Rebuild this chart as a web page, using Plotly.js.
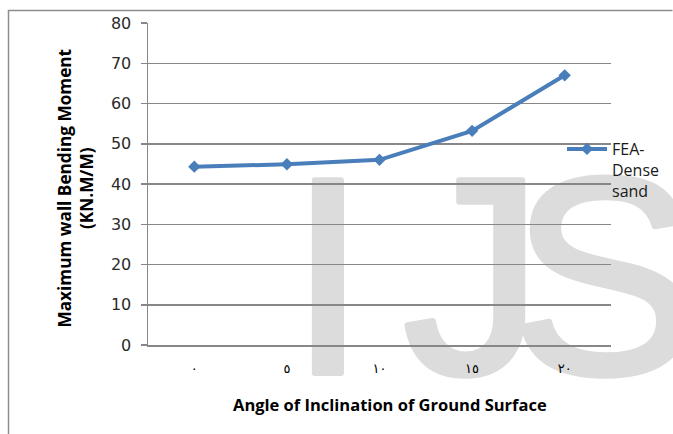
<!DOCTYPE html>
<html>
<head>
<meta charset="utf-8">
<script src="https://cdn.plot.ly/plotly-3.0.1.min.js"></script>
<style>
  html, body { margin: 0; padding: 0; background: #ffffff; }
  #wrap { position: relative; width: 673px; height: 434px; overflow: hidden; }
  #backdrop { position: absolute; left: 0; top: 0; }
  #chart { position: absolute; left: 0; top: 0; width: 673px; height: 434px; }
  .mark { font-family: 'Liberation Sans', Arial, sans-serif; font-size: 280px;
          fill: #dcdcdc; stroke: #dcdcdc; stroke-width: 6px; stroke-linejoin: round; }
</style>
</head>
<body>
<div id="wrap">
  <svg id="backdrop" width="673" height="434">
    <!-- chart frame -->
    <path d="M8.5,440 V10.5 H672.5" fill="none" stroke="#8e8e8e" stroke-width="1.5"/>
    <!-- journal watermark, one glyph per element so the spacing can be set -->
    <text class="mark" x="289" y="373">I</text>
    <text class="mark" x="403" y="373">J</text>
    <text class="mark" x="511" y="373">S</text>
  </svg>
  <div id="chart"></div>
</div>
<script>
// Inclination angle of the ground surface (Arabic-Indic numerals)
const angles = ['٠', '٥', '١٠', '١٥', '٢٠'];
// Maximum wall bending moment, FEA - dense sand (kN.m/m)
const momentDense = [44.3, 44.9, 46.0, 53.2, 67.0];
const seriesName = 'FEA-<br>Dense<br>sand';
const yTitle = 'Maximum wall Bending Moment<br>(KN.M/M)';
const xTitle = 'Angle of Inclination of Ground Surface';

const W = 673, H = 434;
const M = { l: 148, r: 62, t: 23, b: 89, autoexpand: false };
const pw = W - M.l - M.r, ph = H - M.t - M.b;
const px = x => (x - M.l) / pw;
const py = y => (H - M.b - y) / ph;

const gray = '#878787';
const blue = '#4a7ebb';

const trace = {
  type: 'scatter',
  mode: 'lines+markers',
  x: angles,
  y: momentDense,
  name: seriesName,
  line: { color: blue, width: 4 },
  marker: { symbol: 'diamond', size: 9.5, color: blue }
};

const layout = {
  width: W, height: H,
  margin: M,
  paper_bgcolor: 'rgba(0,0,0,0)',
  plot_bgcolor: 'rgba(0,0,0,0)',
  showlegend: true,
  xaxis: {
    type: 'category',
    categoryorder: 'array',
    categoryarray: angles,
    range: [-0.5, 4.5],
    showgrid: false,
    zeroline: false,
    showline: true,
    linecolor: gray,
    linewidth: 1.5,
    ticks: '',
    ticklabelstandoff: 11,
    tickfont: { family: 'DejaVu Sans', size: 13, color: '#000000' },
    fixedrange: true
  },
  yaxis: {
    range: [0, 80],
    dtick: 10,
    tick0: 0,
    showgrid: true,
    gridcolor: gray,
    gridwidth: 1.5,
    zeroline: false,
    showline: true,
    linecolor: gray,
    linewidth: 1.5,
    ticks: 'outside',
    ticklen: 6,
    tickwidth: 1.5,
    tickcolor: gray,
    ticklabelstandoff: 6,
    tickfont: { family: 'DejaVu Sans', size: 16, color: '#2b2b2b' },
    fixedrange: true
  },
  legend: {
    x: px(562), y: py(132),
    xanchor: 'left', yanchor: 'top',
    valign: 'top',
    itemwidth: 40,
    bgcolor: 'rgba(0,0,0,0)',
    font: { family: 'Open Sans', size: 16, color: '#1a1a1a' }
  },
  annotations: [
    {
      xref: 'paper', yref: 'paper',
      x: px(74.5), y: py(188),
      xanchor: 'center', yanchor: 'middle',
      textangle: -90,
      showarrow: false,
      text: '<b>' + yTitle.replace('<br>', '</b><br><b>') + '</b>',
      font: { family: 'Open Sans', size: 17.2, color: '#000000' }
    },
    {
      xref: 'paper', yref: 'paper',
      x: px(390), y: py(405),
      xanchor: 'center', yanchor: 'middle',
      showarrow: false,
      text: '<b>' + xTitle + '</b>',
      font: { family: 'Open Sans', size: 16.5, color: '#000000' }
    }
  ]
};

Plotly.newPlot('chart', [trace], layout, { staticPlot: true, displayModeBar: false });
</script>
</body>
</html>
